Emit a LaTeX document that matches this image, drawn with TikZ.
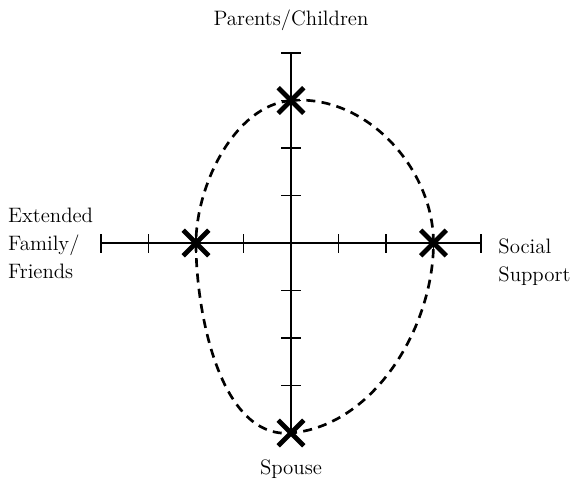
\documentclass[tikz,border=0pt]{standalone}
\usepackage{tikz}
\usetikzlibrary{shapes.misc}

\begin{document}
\begin{tikzpicture}[
  axis/.style={line width=1.1pt},
  tickmark/.style={line width=1.1pt},
  hit/.style={cross out, draw, line width=2.8pt, minimum size=0.44cm, inner sep=0pt},
  loop/.style={line width=1.6pt, dash pattern=on 5.4pt off 3.8pt},
  lbl/.style={font=\fontsize{12.5}{16.7}\selectfont, inner sep=0pt}
]
  \useasboundingbox (-6.126,-5.137) rectangle (5.958,5.116);

  % Axes
  \coordinate (west) at (-4,0);
  \coordinate (east) at (4,0);
  \coordinate (north) at (0,4);
  \coordinate (south) at (0,-4);
  \draw[axis] (west) -- (east);
  \draw[axis] (north) -- (south);

  % Tick marks
  \foreach \t in {-4,-3,-2,-1,1,2,3,4}
    \draw[tickmark] (\t,-0.2) -- (\t,0.2);
  \foreach \t in {-3,-2,-1,1,2,3,4}
    \draw[tickmark] (-0.21,\t) -- (0.21,\t);

  % Points on the axes
  \node[hit] (parents) at (0,3) {};
  \node[hit] (family) at (-2,0) {};
  \node[hit] (social) at (3,0) {};
  \node[hit] (spouse) at (0,-4) {};

  % Closed curve through the points
  \draw[loop] (parents.center) to[out=5,in=90,looseness=0.95] (social.center)
    to[out=-90,in=5,looseness=0.9] (spouse.center)
    to[out=185,in=-90,looseness=0.85] (family.center)
    to[out=90,in=185,looseness=0.85] (parents.center);

  % Axis labels
  \node[lbl] (toplbl) at (0,4.69) {Parents/Children};
  \node[lbl, anchor=north west, align=left] (rightlbl) at (4.36,0.1)
    {Social\\Support};
  \node[lbl, anchor=west, align=left] (leftlbl) at (-5.96,0)
    {Extended\\Family/\\Friends};
  \node[lbl] (bottomlbl) at (0,-4.76) {Spouse};
\end{tikzpicture}
\end{document}
